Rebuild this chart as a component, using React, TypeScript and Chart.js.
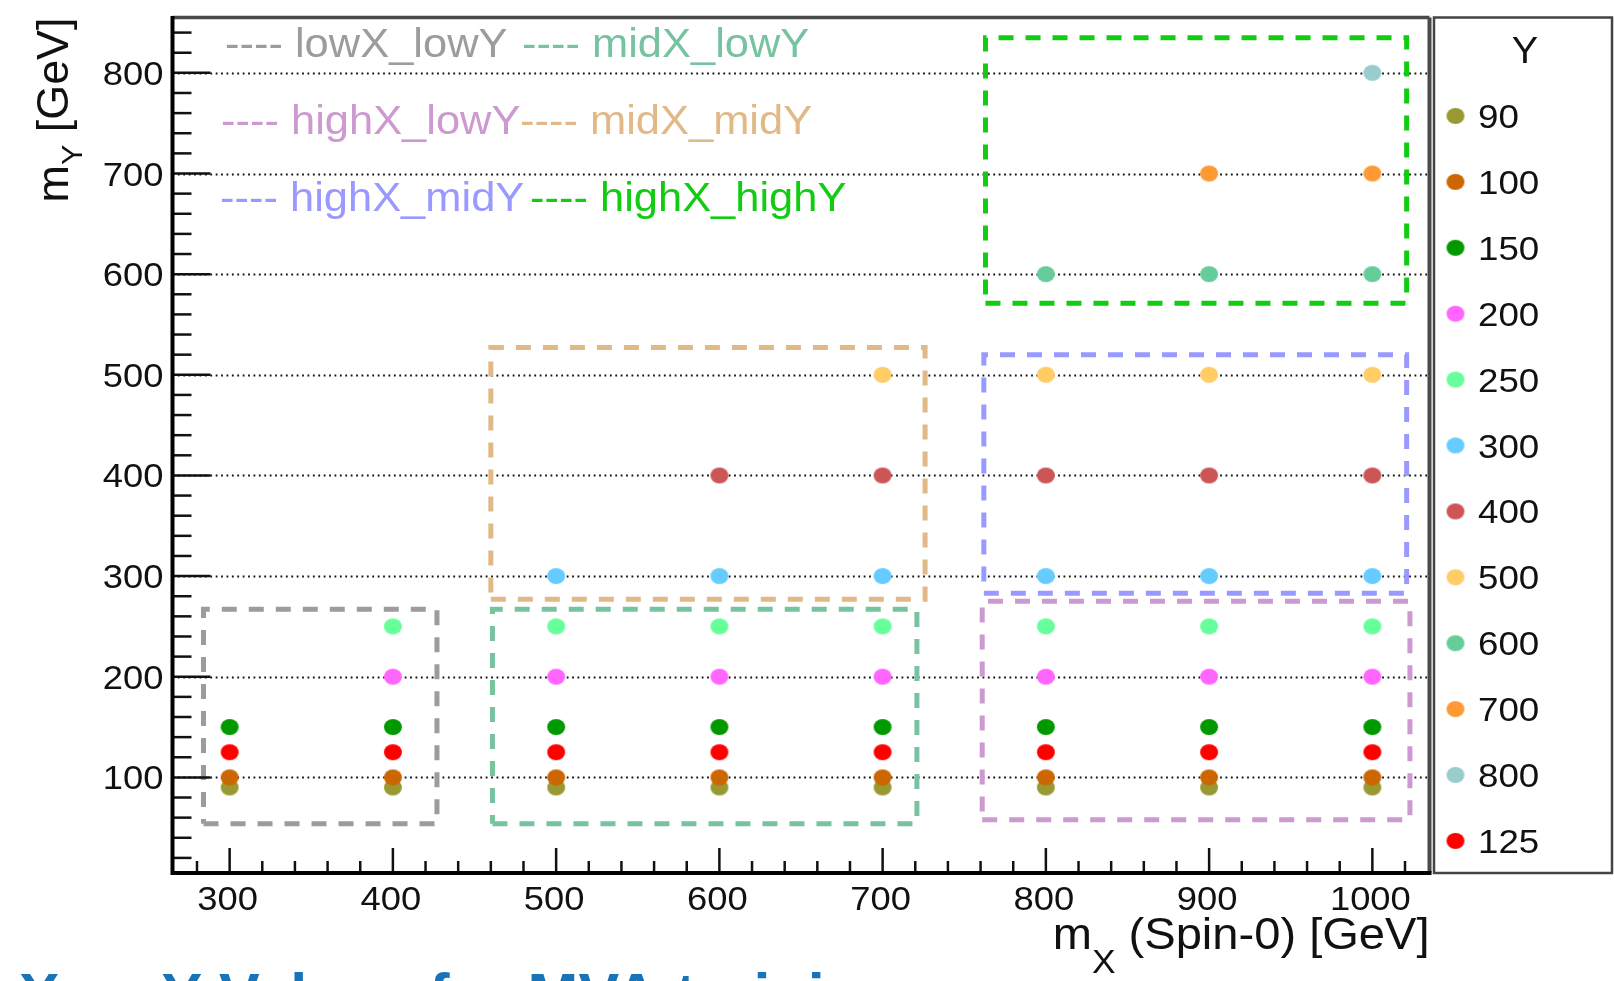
import React, { useEffect, useRef } from 'react';
import { Chart, registerables } from 'chart.js';

Chart.register(...registerables);

// ---------------- data ----------------
const xRange = [265, 1035];
const yRange = [5, 855];
const xMajorTicks = [300, 400, 500, 600, 700, 800, 900, 1000];
const yMajorTicks = [100, 200, 300, 400, 500, 600, 700, 800];

// m_X values at which each m_Y mass point exists
const xY90 = [300, 400, 500, 600, 700, 800, 900, 1000];
const xY100 = [300, 400, 500, 600, 700, 800, 900, 1000];
const xY150 = [300, 400, 500, 600, 700, 800, 900, 1000];
const xY200 = [400, 500, 600, 700, 800, 900, 1000];
const xY250 = [400, 500, 600, 700, 800, 900, 1000];
const xY300 = [500, 600, 700, 800, 900, 1000];
const xY400 = [600, 700, 800, 900, 1000];
const xY500 = [700, 800, 900, 1000];
const xY600 = [800, 900, 1000];
const xY700 = [900, 1000];
const xY800 = [1000];
const xY125 = [300, 400, 500, 600, 700, 800, 900, 1000];

const massLabels = ['90', '100', '150', '200', '250', '300', '400', '500', '600', '700', '800', '125'];
const massValues = [90, 100, 150, 200, 250, 300, 400, 500, 600, 700, 800, 125];
const massXLists = [xY90, xY100, xY150, xY200, xY250, xY300, xY400, xY500, xY600, xY700, xY800, xY125];
const massColors = ['#999933', '#cc6600', '#009900', '#ff66ff', '#66ff99', '#66ccff', '#cc5555', '#ffcc66', '#66cc99', '#ff9933', '#99cccc', '#ff0000'];

// training regions (dashed boxes)
const regionNames = ['lowX_lowY', 'midX_lowY', 'highX_lowY', 'midX_midY', 'highX_midY', 'highX_highY'];
const regionColors = ['#9c9c9c', '#77c29f', '#cc99d0', '#e0b986', '#9999ff', '#11cc11'];
const regionXMin = [284, 461, 761, 460, 762, 763];
const regionXMax = [427, 721, 1023, 726, 1021, 1021];
const regionYMin = [54, 54, 58, 277, 283, 571];
const regionYMax = [267, 267, 275, 527, 520, 835];

// ---------------- layout / style ----------------
const W = 1614;
const H = 981;
const PLOT_L = 172.5;
const PLOT_R = 1429.5;
const PLOT_T = 17.5;
const PLOT_B = 873;
const FONT = '"Liberation Sans", Arial, Helvetica, sans-serif';

function makeDot(color: string): HTMLCanvasElement {
  const c = document.createElement('canvas');
  c.width = 20;
  c.height = 18;
  const g = c.getContext('2d')!;
  g.fillStyle = color;
  g.beginPath();
  g.ellipse(10, 9, 9, 8, 0, 0, Math.PI * 2);
  g.fill();
  return c;
}

function drawText(
  ctx: CanvasRenderingContext2D,
  s: string,
  x: number,
  y: number,
  size: number,
  color: string,
  align: 'left' | 'right' | 'center',
  sx = 1.07,
  weight = 'normal'
): number {
  ctx.save();
  ctx.font = `${weight} ${size}px ${FONT}`;
  ctx.fillStyle = color;
  ctx.textBaseline = 'alphabetic';
  ctx.textAlign = 'left';
  const w = ctx.measureText(s).width * sx;
  const x0 = align === 'left' ? x : align === 'right' ? x - w : x - w / 2;
  ctx.translate(x0, y);
  ctx.scale(sx, 1);
  ctx.fillText(s, 0, 0);
  ctx.restore();
  return w;
}

function measure(ctx: CanvasRenderingContext2D, s: string, size: number, sx = 1.07): number {
  ctx.save();
  ctx.font = `normal ${size}px ${FONT}`;
  const w = ctx.measureText(s).width * sx;
  ctx.restore();
  return w;
}

const legendPos = [
  { x: 225, y: 57 },
  { x: 522, y: 57 },
  { x: 221, y: 134 },
  { x: 520, y: 134 },
  { x: 220, y: 211 },
  { x: 530, y: 211 },
];

const framePlugin = {
  id: 'rootFrame',
  beforeDatasetsDraw(chart: any) {
    const ctx: CanvasRenderingContext2D = chart.ctx;
    const { left, right } = chart.chartArea;
    const ys = chart.scales.y;
    ctx.save();
    ctx.strokeStyle = '#111';
    ctx.lineWidth = 1.8;
    ctx.setLineDash([1.8, 3.6]);
    for (const v of yMajorTicks) {
      const py = Math.round(ys.getPixelForValue(v)) + 0.5;
      ctx.beginPath();
      ctx.moveTo(left, py);
      ctx.lineTo(right, py);
      ctx.stroke();
    }
    ctx.restore();
  },
  afterDatasetsDraw(chart: any) {
    const ctx: CanvasRenderingContext2D = chart.ctx;
    const { left, right, top, bottom } = chart.chartArea;
    const xs = chart.scales.x;
    const ys = chart.scales.y;

    ctx.save();
    // ticks on y axis (inward)
    ctx.strokeStyle = '#111';
    ctx.lineWidth = 2.5;
    for (let v = 20; v < yRange[1]; v += 20) {
      const py = ys.getPixelForValue(v);
      const major = v % 100 === 0;
      ctx.beginPath();
      ctx.moveTo(left, py);
      ctx.lineTo(left + (major ? 38 : 19), py);
      ctx.stroke();
    }
    // ticks on x axis (inward)
    for (let v = 280; v < xRange[1]; v += 20) {
      const px = xs.getPixelForValue(v);
      const major = v % 100 === 0;
      ctx.beginPath();
      ctx.moveTo(px, bottom);
      ctx.lineTo(px, bottom - (major ? 25 : 12));
      ctx.stroke();
    }
    // frame
    ctx.strokeStyle = '#4a4a4a';
    ctx.lineWidth = 3.5;
    ctx.beginPath();
    ctx.moveTo(left, top);
    ctx.lineTo(right, top);
    ctx.stroke();
    ctx.lineWidth = 4;
    ctx.beginPath();
    ctx.moveTo(right, top);
    ctx.lineTo(right, bottom);
    ctx.stroke();
    ctx.strokeStyle = '#000';
    ctx.lineWidth = 4;
    ctx.beginPath();
    ctx.moveTo(left, top - 1.5);
    ctx.lineTo(left, bottom);
    ctx.lineTo(right + 2, bottom);
    ctx.stroke();
    ctx.restore();

    // tick labels
    for (const v of yMajorTicks) {
      drawText(ctx, String(v), 163.5, ys.getPixelForValue(v) + 12, 34, '#111', 'right');
    }
    for (const v of xMajorTicks) {
      drawText(ctx, String(v), xs.getPixelForValue(v) - 2, 910, 34, '#111', 'center');
    }

    // x axis title: m_X (Spin-0) [GeV]
    {
      const main = 44;
      const sub = 33;
      const wm = measure(ctx, 'm', main);
      const wsub = measure(ctx, 'X', sub);
      const wrest = measure(ctx, ' (Spin-0) [GeV]', main);
      const x0 = right - (wm + wsub + wrest);
      drawText(ctx, 'm', x0, 949, main, '#111', 'left');
      drawText(ctx, 'X', x0 + wm, 973, sub, '#111', 'left');
      drawText(ctx, ' (Spin-0) [GeV]', x0 + wm + wsub, 949, main, '#111', 'left');
    }
    // y axis title: m_Y [GeV] (rotated)
    {
      ctx.save();
      ctx.translate(68, top);
      ctx.rotate(-Math.PI / 2);
      const main = 44;
      const sub = 30;
      const wm = measure(ctx, 'm', main, 1.02);
      const wsub = measure(ctx, 'Y', sub, 1.02);
      const wrest = measure(ctx, ' [GeV]', main, 1.02);
      const x0 = -(wm + wsub + wrest);
      drawText(ctx, 'm', x0, 0, main, '#111', 'left', 1.02);
      drawText(ctx, 'Y', x0 + wm, 14, sub, '#111', 'left', 1.02);
      drawText(ctx, ' [GeV]', x0 + wm + wsub, 0, main, '#111', 'left', 1.02);
      ctx.restore();
    }

    // region legend (text entries)
    regionNames.forEach((name, i) => {
      const p = legendPos[i];
      drawText(ctx, '---- ' + name, p.x, p.y, 41, regionColors[i], 'left', 1.06);
    });

    // right-hand legend box for m_Y
    {
      const bx0 = 1434;
      const bx1 = 1612;
      ctx.save();
      ctx.strokeStyle = '#444';
      ctx.lineWidth = 2.5;
      ctx.strokeRect(bx0, top, bx1 - bx0, bottom - top);
      ctx.restore();
      drawText(ctx, 'Y', 1525, 63, 37, '#111', 'center');
      massLabels.forEach((lab, i) => {
        const cy = 116 + i * 65.9;
        const dot = dots[i];
        ctx.drawImage(dot, 1455.5 - dot.width / 2, cy - dot.height / 2);
        drawText(ctx, lab, 1478, cy + 12, 34, '#111', 'left', 1.08);
      });
    }

    // partially visible slide title at the bottom
    drawText(ctx, 'X vs Y Values for MVA training', 19, 1016, 61, '#1874b8', 'left', 1.0, 'bold');
  },
};

let dots: HTMLCanvasElement[] = [];

export default function App() {
  const ref = useRef<HTMLCanvasElement | null>(null);

  useEffect(() => {
    document.body.style.margin = '0';
    const canvas = ref.current!;
    dots = massColors.map((c) => makeDot(c));

    const pointSets = massLabels.map((lab, i) => ({
      type: 'scatter' as const,
      label: lab,
      data: massXLists[i].map((x) => ({ x, y: massValues[i] })),
      pointStyle: dots[i],
      pointRadius: 9,
      backgroundColor: massColors[i],
      borderWidth: 0,
      order: 100 - i,
    }));

    const regionSets = regionNames.map((name, i) => ({
      type: 'scatter' as const,
      label: name,
      data: [
        { x: regionXMin[i], y: regionYMin[i] },
        { x: regionXMax[i], y: regionYMin[i] },
        { x: regionXMax[i], y: regionYMax[i] },
        { x: regionXMin[i], y: regionYMax[i] },
        { x: regionXMin[i], y: regionYMin[i] },
      ],
      showLine: true,
      pointRadius: 0,
      borderColor: regionColors[i],
      borderWidth: 5,
      borderDash: [15, 12],
      fill: false,
      tension: 0,
      order: 200,
    }));

    const chart = new Chart(canvas, {
      type: 'scatter',
      data: { datasets: [...regionSets, ...pointSets] as any },
      options: {
        responsive: false,
        animation: false,
        devicePixelRatio: 1,
        events: [],
        layout: {
          padding: { left: PLOT_L, top: PLOT_T, right: W - PLOT_R, bottom: H - PLOT_B },
        },
        scales: {
          x: { type: 'linear', min: xRange[0], max: xRange[1], display: false },
          y: { type: 'linear', min: yRange[0], max: yRange[1], display: false },
        },
        plugins: {
          legend: { display: false },
          tooltip: { enabled: false },
          title: { display: false },
        },
      },
      plugins: [framePlugin],
    });
    return () => chart.destroy();
  }, []);

  return (
    <div style={{ width: W, height: H, background: '#fff' }}>
      <canvas ref={ref} width={W} height={H} style={{ display: 'block', width: W, height: H }} />
    </div>
  );
}
